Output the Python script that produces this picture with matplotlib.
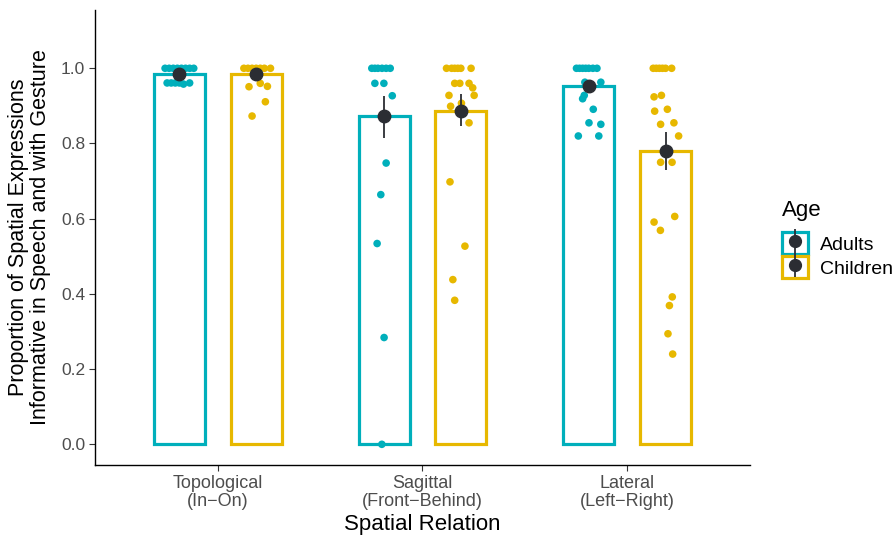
import matplotlib
matplotlib.use("Agg")
import matplotlib.pyplot as plt
import numpy as np
from matplotlib.patches import Patch
from matplotlib.lines import Line2D
from matplotlib.legend_handler import HandlerTuple

plt.rcParams['font.family'] = ['Liberation Sans', 'DejaVu Sans']

# data
categories = ["Topological\n(In\u2212On)", "Sagittal\n(Front\u2212Behind)", "Lateral\n(Left\u2212Right)"]
groups = ["Adults", "Children"]
colors = ["#00AFBB", "#E7B800"]

means = {"Adults": [0.984, 0.873, 0.953], "Children": [0.985, 0.887, 0.779]}
err_lo = {"Adults": [0.975, 0.815, 0.945], "Children": [0.975, 0.847, 0.730]}
err_hi = {"Adults": [0.993, 0.926, 0.962], "Children": [0.995, 0.931, 0.831]}

# individual participant values, with their jitter (fraction of a category step)
adults_top = [1, 1, 1, 1, 1, 1, 1, 1, 0.961, 0.961, 0.961, 0.961, 0.958, 0.961]
adults_top_jit = [-0.07, -0.05, -0.03, -0.01, 0.01, 0.03, 0.05, 0.07, -0.06, -0.04, -0.02, 0.0, 0.02, 0.05]
children_top = [1, 1, 1, 1, 1, 1, 1, 0.951, 0.96, 0.952, 0.911, 0.873]
children_top_jit = [-0.06, -0.04, -0.02, 0.0, 0.02, 0.04, 0.07, -0.035, 0.02, 0.055, 0.045, -0.02]

adults_sag = [1, 1, 1, 1, 1, 1, 0.96, 0.96, 0.927, 0.748, 0.664, 0.534, 0.284, 0.0]
adults_sag_jit = [-0.06, -0.045, -0.03, -0.01, 0.01, 0.03, -0.045, -0.001, 0.04, 0.01, -0.016, -0.034, 0.0, -0.011]
children_sag = [1, 1, 1, 1, 1, 1, 0.96, 0.96, 0.96, 0.948, 0.928, 0.928, 0.899, 0.907, 0.855,
                0.698, 0.527, 0.438, 0.383]
children_sag_jit = [-0.07, -0.045, -0.03, -0.015, 0.0, 0.05, -0.03, -0.005, 0.04, 0.058, -0.058, 0.065,
                    -0.05, 0.003, 0.04, -0.053, 0.02, -0.039, -0.03]

adults_lat = [1, 1, 1, 1, 1, 1, 1, 0.963, 0.963, 0.919, 0.928, 0.891, 0.855, 0.851, 0.82, 0.82]
adults_lat_jit = [-0.06, -0.045, -0.03, -0.015, 0.0, 0.02, 0.04, -0.019, 0.059, -0.03, -0.022, 0.022,
                  0.001, 0.059, -0.051, 0.049]
children_lat = [1, 1, 1, 1, 1, 1, 0.924, 0.928, 0.886, 0.891, 0.851, 0.855, 0.82, 0.75, 0.75,
                0.606, 0.591, 0.569, 0.392, 0.369, 0.294, 0.24]
children_lat_jit = [-0.06, -0.045, -0.03, -0.015, 0.0, 0.03, -0.056, -0.02, -0.053, 0.009, -0.024, 0.041,
                    0.064, -0.024, 0.032, 0.045, -0.056, -0.025, 0.033, 0.019, 0.012, 0.035]

points = {
    "Adults": [(adults_top, adults_top_jit), (adults_sag, adults_sag_jit), (adults_lat, adults_lat_jit)],
    "Children": [(children_top, children_top_jit), (children_sag, children_sag_jit), (children_lat, children_lat_jit)],
}

dark = "#2b2d33"
fig = plt.figure(figsize=(8.96, 5.41), dpi=100)
ax = fig.add_axes([0.106, 0.1405, 0.731, 0.841])

x = np.arange(1, len(categories) + 1)
offsets = [-0.1875, 0.1875]
width = 0.25

for g, col, off in zip(groups, colors, offsets):
    xs = x + off
    ax.bar(xs, means[g], width=width, facecolor="white", edgecolor=col, linewidth=2.3, zorder=1)
    for xi, (vals, jit) in zip(xs, points[g]):
        ax.scatter(xi + np.array(jit), vals, s=30, color=col, edgecolors="none", zorder=2)
    ax.vlines(xs, err_lo[g], err_hi[g], color=dark, linewidth=1.3, zorder=3)
    ax.plot(xs, means[g], "o", color=dark, markersize=9, zorder=4)

ax.set_xlim(0.4, 3.6)
ax.set_ylim(-0.055, 1.155)
ax.set_xticks(x)
ax.set_xticklabels(categories, fontsize=13, color="#4d4d4d", linespacing=1.1)
ax.set_yticks(np.arange(0, 1.01, 0.2))
ax.set_yticklabels([f"{v:.1f}" for v in np.arange(0, 1.01, 0.2)], fontsize=12.5, color="#4d4d4d")
ax.tick_params(length=4, width=0.8, color="#333333", pad=3)
for s in ["top", "right"]:
    ax.spines[s].set_visible(False)
for s in ["left", "bottom"]:
    ax.spines[s].set_linewidth(1.0)

ax.set_xlabel("Spatial Relation", fontsize=16, labelpad=3)
ax.set_ylabel("Proportion of Spatial Expressions\nInformative in Speech and with Gesture", fontsize=15.5,
              linespacing=1.05, labelpad=7)

handles = []
for col in colors:
    box = Patch(facecolor="white", edgecolor=col, linewidth=2.3)
    bar = Line2D([], [], marker="|", markersize=17, color=dark, linestyle="none", markeredgewidth=1.3)
    dot = Line2D([], [], marker="o", markersize=8.5, color=dark, linestyle="none")
    handles.append((box, bar, dot))
leg = fig.legend(handles, groups, title="Age", loc="center left", bbox_to_anchor=(0.873, 0.558),
                 frameon=False, fontsize=14, title_fontsize=16, handlelength=1.35, handleheight=1.35,
                 handletextpad=0.6, labelspacing=0.12, borderpad=0, borderaxespad=0,
                 handler_map={tuple: HandlerTuple(ndivide=1, pad=0)})
leg._legend_box.align = "left"
leg._legend_box.sep = 8

fig.savefig("out.png", dpi=100)
